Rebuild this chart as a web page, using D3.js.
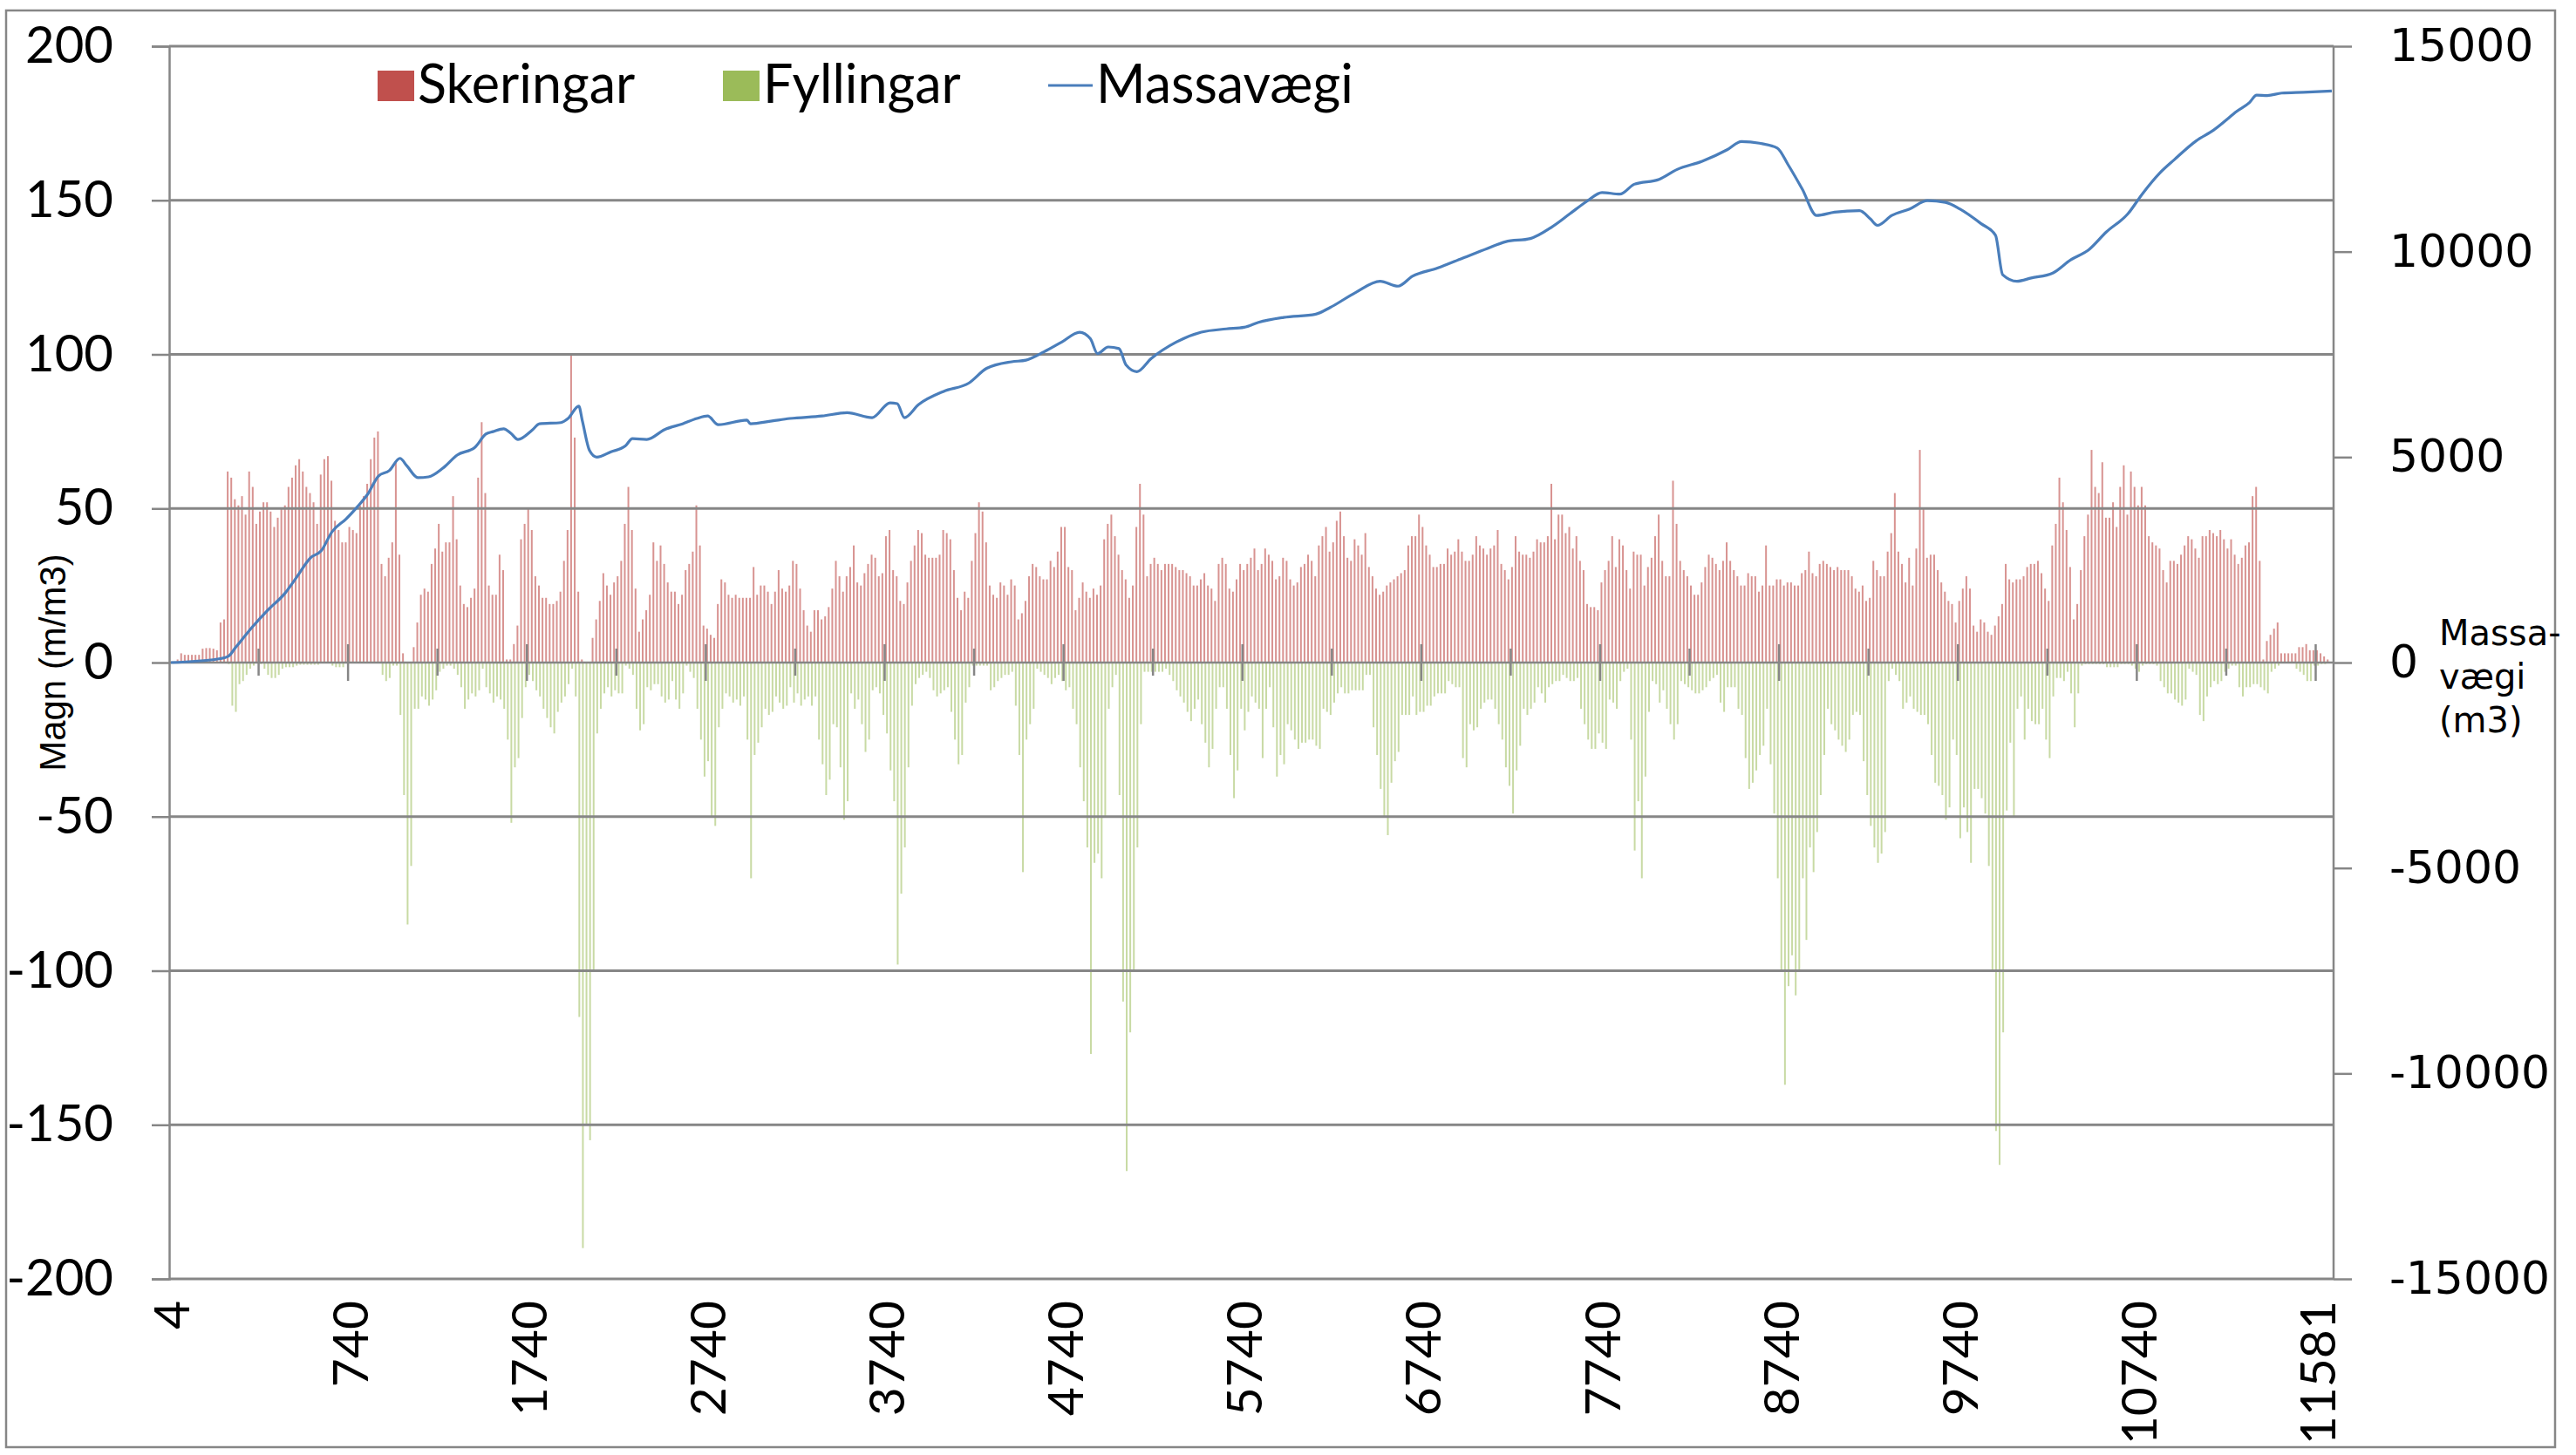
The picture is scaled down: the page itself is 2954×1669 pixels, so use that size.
<!DOCTYPE html>
<html lang="is">
    <head>
        <meta charset="UTF-8">
        <script src="https://cdn.jsdelivr.net/npm/d3@7"></script>
        <title>Massavægi</title>
        <style>
            body { margin: 0; background: #ffffff; }
        </style>
    </head>
    <body>
        <script type="text/javascript">
            // Tick labels on the category axis (station) and the category index they sit on
            var tickLabels = ["4", "740", "1740", "2740", "3740", "4740", "5740", "6740", "7740", "8740", "9740", "10740", "11581"];
            var tickIndex = [0, 50, 100, 150, 200, 250, 300, 350, 400, 450, 500, 550, 600];
            var categoryCount = 605;

            // Skeringar (m/m3), one value per station
            var skeringar = [
                0, 0, 1, 3, 2.5, 2.5, 2.5, 2.5, 2.5, 4.5,
                4.7, 4.7, 4.5, 4, 13, 14, 62, 60, 53, 51,
                54, 48, 62, 57, 45, 49, 52, 52, 49, 44,
                47, 50, 51, 57, 60, 64, 66, 62, 57, 55,
                52, 45, 61, 66, 67, 59, 46, 43, 39, 39,
                44, 43, 42, 51, 54, 58, 66, 73, 75, 32,
                28, 34, 39, 65, 35, 3, 0, 0, 5, 13,
                22, 24, 23, 32, 37, 45, 36, 39, 39, 54,
                40, 25, 19, 18, 21, 24, 60, 78, 55, 25,
                22, 22, 35, 30, 1, 1, 6, 12, 40, 45,
                50, 43, 28, 25, 21, 21, 19, 19, 20, 23,
                33, 43, 100, 73, 23, 1, 0, 0, 8, 14,
                20, 29, 25, 22, 26, 28, 33, 45, 57, 43,
                24, 10, 14, 17, 22, 39, 33, 38, 32, 26,
                23, 23, 19, 22, 30, 32, 36, 51, 38, 12,
                11, 9, 8, 19, 27, 26, 22, 21, 22, 21,
                21, 21, 21, 31, 22, 25, 25, 23, 19, 23,
                30, 24, 23, 25, 33, 32, 24, 17, 12, 10,
                17, 17, 14, 15, 18, 24, 33, 28, 23, 28,
                31, 38, 26, 25, 29, 32, 35, 34, 28, 29,
                41, 43, 30, 28, 20, 19, 26, 33, 38, 43,
                42, 35, 34, 34, 34, 35, 43, 42, 40, 30,
                21, 17, 23, 21, 33, 42, 52, 49, 39, 25,
                22, 21, 26, 25, 22, 27, 25, 14, 16, 20,
                28, 32, 31, 28, 27, 27, 33, 31, 36, 44,
                44, 31, 30, 17, 21, 26, 23, 21, 24, 22,
                25, 40, 45, 48, 41, 35, 30, 27, 21, 25,
                44, 58, 48, 28, 32, 34, 32, 30, 32, 32,
                32, 31, 30, 30, 29, 28, 25, 25, 27, 29,
                25, 24, 20, 32, 34, 32, 24, 23, 27, 32,
                30, 32, 34, 37, 30, 32, 37, 35, 33, 27,
                28, 34, 33, 27, 25, 26, 31, 32, 35, 33,
                28, 38, 41, 44, 36, 39, 46, 49, 41, 34,
                33, 40, 38, 35, 42, 31, 28, 24, 22, 23,
                25, 26, 27, 28, 29, 30, 38, 41, 41, 48,
                44, 38, 35, 31, 31, 32, 32, 37, 35, 36,
                40, 36, 33, 33, 35, 41, 38, 37, 35, 37,
                38, 43, 32, 30, 27, 31, 41, 36, 35, 35,
                34, 36, 40, 39, 39, 41, 58, 40, 48, 48,
                42, 44, 37, 41, 33, 30, 19, 18, 18, 17,
                26, 30, 33, 41, 31, 40, 38, 30, 24, 36,
                35, 35, 25, 31, 34, 41, 48, 33, 28, 28,
                59, 45, 33, 30, 28, 25, 22, 22, 26, 31,
                35, 34, 32, 30, 33, 39, 33, 30, 28, 25,
                25, 29, 28, 28, 23, 25, 38, 25, 25, 27,
                27, 25, 26, 26, 25, 25, 29, 30, 36, 29,
                28, 32, 33, 32, 31, 30, 31, 30, 30, 30,
                28, 24, 23, 25, 20, 21, 33, 30, 28, 28,
                36, 42, 55, 36, 32, 26, 34, 25, 37, 69,
                50, 34, 35, 35, 30, 26, 23, 20, 19, 13,
                20, 24, 28, 24, 12, 10, 14, 13, 10, 9,
                12, 15, 19, 32, 27, 26, 27, 27, 28, 31,
                32, 32, 33, 29, 24, 20, 38, 45, 60, 52,
                43, 31, 14, 19, 30, 41, 48, 69, 57, 55,
                65, 47, 47, 52, 44, 57, 64, 48, 62, 57,
                51, 57, 51, 41, 39, 38, 37, 30, 26, 33,
                33, 32, 35, 38, 41, 40, 37, 34, 41, 41,
                43, 42, 41, 43, 40, 37, 40, 35, 32, 34,
                38, 39, 54, 57, 33, 1, 7, 9, 11, 13,
                3, 3, 3, 3, 3, 5, 5, 6, 4, 4,
                4, 3, 2, 1, 0
            ];

            // Fyllingar (m/m3), one value per station
            var fyllingar = [
                0, 0, 0, 0, 0, 0, 0, 0, 0, 0,
                0, 0, 0, 0, 0, 0, -0.5, -14, -16, -7,
                -6, -4, -2, -1, 0, -0.5, -2, -4, -5, -5,
                -4, -2, -1.5, -1.5, -1.5, -1, -0.7, -0.7, -0.7, -0.7,
                -0.7, -0.7, 0, 0, 0, -1, -1.5, -1.5, -1.5, 0,
                0, 0, 0, 0, 0, 0, 0, 0, 0, -4,
                -6, -5, -1, -1, -17, -43, -85, -66, -15, -15,
                -11, -12, -14, -12, -9, -3, -2, -1, -1, -2,
                -4, -8, -15, -12, -10, -11, -9, -2, -8, -10,
                -13, -11, -12, -15, -25, -52, -34, -31, -18, -8,
                -4, -6, -9, -11, -15, -18, -21, -23, -16, -13,
                -11, -7, -2, -11, -115, -190, -150, -155, -100, -23,
                -15, -10, -8, -11, -9, -10, -10, -1, -2, -4,
                -15, -22, -20, -8, -9, -7, -7, -11, -13, -12,
                -6, -12, -15, -10, -1, -3, -5, -15, -25, -37,
                -32, -50, -53, -21, -15, -10, -11, -13, -12, -14,
                -11, -25, -70, -30, -26, -21, -15, -17, -16, -11,
                -13, -15, -14, -8, -13, -10, -14, -12, -11, -14,
                -11, -25, -33, -43, -38, -20, -21, -34, -51, -45,
                -10, -15, -12, -20, -29, -25, -9, -8, -10, -17,
                -23, -35, -45, -98, -75, -60, -34, -14, -7, -5,
                -4, -3, -5, -9, -11, -10, -9, -8, -16, -25,
                -33, -30, -13, -8, -1, -1, -1, -1, -1, -9,
                -8, -6, -5, -4, -4, -3, -14, -30, -68, -25,
                -20, -15, -2, -3, -4, -5, -7, -5, -4, -6,
                -9, -8, -15, -20, -34, -45, -60, -127, -65, -62,
                -70, -50, -15, -8, -4, -43, -110, -165, -120, -100,
                -60, -20, -3, -3, -3, -3, -3, -3, -2, -4,
                -6, -9, -11, -13, -16, -19, -15, -12, -20, -26,
                -34, -28, -15, -8, -8, -15, -30, -44, -35, -15,
                -22, -16, -11, -13, -15, -31, -15, -8, -21, -37,
                -30, -33, -20, -22, -25, -28, -26, -26, -25, -25,
                -27, -28, -15, -16, -17, -13, -10, -8, -10, -10,
                -9, -9, -9, -9, -4, -4, -21, -30, -41, -50,
                -56, -39, -32, -29, -17, -17, -17, -11, -17, -16,
                -16, -14, -14, -11, -10, -10, -10, -6, -7, -8,
                -8, -31, -34, -20, -22, -21, -15, -13, -12, -12,
                -15, -20, -25, -34, -40, -49, -35, -27, -15, -17,
                -15, -13, -8, -10, -13, -8, -7, -6, -6, -4,
                -5, -6, -6, -5, -15, -20, -25, -28, -28, -23,
                -26, -28, -12, -13, -15, -6, -3, -2, -25, -61,
                -45, -70, -37, -16, -6, -7, -13, -9, -15, -20,
                -25, -20, -6, -7, -8, -9, -10, -10, -9, -8,
                -6, -5, -4, -13, -16, -8, -8, -8, -15, -17,
                -31, -41, -39, -35, -30, -27, -15, -33, -49, -70,
                -100, -137, -105, -95, -108, -100, -70, -90, -60, -68,
                -55, -43, -30, -15, -20, -22, -25, -27, -29, -25,
                -17, -16, -17, -32, -43, -53, -60, -65, -62, -55,
                -6, -2, -4, -6, -15, -13, -11, -15, -16, -17,
                -17, -20, -30, -39, -40, -43, -51, -47, -25, -30,
                -57, -47, -55, -65, -41, -41, -44, -49, -66, -100,
                -152, -163, -120, -48, -26, -50, -15, -11, -25, -15,
                -19, -20, -20, -15, -25, -31, -11, -5, -5, -6,
                -3, -10, -21, -10, -1, -0.5, -0.5, -0.5, -0.5, -0.5,
                -0.5, -1.5, -1.5, -1.5, -1.5, -0.5, -0.5, -0.5, -1, -2,
                -3, -1, -0.5, -0.5, -0.5, -1, -6, -8, -10, -10,
                -12, -13, -14, -12, -2, -3, -4, -17, -19, -11,
                -8, -6, -7, -6, -3, -2, -1, -1, -8, -11,
                -8, -8, -7, -7, -8, -9, -10, -3, -2, -1,
                0, 0, 0, 0, -2, -3, -4, -6, -6, -1,
                -1, -0.5, -0.5, 0, 0
            ];

            // Massavægi (m3) read at these station indices
            var massIndex = [0, 13, 16, 18, 23, 27, 32, 35, 39, 42, 45, 49, 52, 55, 58, 61, 64, 66, 69, 72,
                76, 80, 85, 88, 90, 93, 95, 97, 101, 103, 109, 111, 114, 115, 117, 119, 123, 127, 129, 133,
                138, 143, 147, 150, 153, 161, 162, 168, 173, 182, 189, 196, 201, 203, 205, 209, 216, 223, 228, 235,
                239, 244, 249, 254, 257, 259, 262, 265, 267, 270, 274, 281, 288, 295, 300, 304, 311, 320, 324, 331,
                338, 343, 347, 354, 361, 368, 373, 380, 386, 391, 396, 400, 405, 409, 416, 421, 428, 435, 439, 444,
                449, 452, 456, 460, 465, 472, 475, 477, 481, 486, 491, 496, 500, 506, 510, 512, 516, 520, 526, 531,
                536, 541, 547, 551, 556, 560, 566, 571, 575, 577, 581, 583, 586, 590, 596, 604];
            var massValue = [0, 85, 150, 360, 890, 1270, 1700, 2060, 2550, 2720, 3180, 3500, 3780, 4100, 4540, 4670, 4970, 4780, 4500, 4520,
                4730, 5050, 5240, 5560, 5620, 5690, 5580, 5430, 5660, 5810, 5840, 5940, 6240, 5880, 5160, 5000, 5130, 5270, 5450, 5430,
                5670, 5810, 5940, 6000, 5790, 5900, 5810, 5880, 5940, 6000, 6080, 5960, 6320, 6300, 5960, 6280, 6600, 6800, 7160, 7320,
                7360, 7560, 7800, 8040, 7880, 7520, 7680, 7640, 7240, 7080, 7400, 7800, 8040, 8120, 8160, 8280, 8400, 8480, 8640, 9000,
                9280, 9160, 9400, 9600, 9840, 10080, 10240, 10320, 10600, 10920, 11240, 11440, 11400, 11640, 11760, 12000, 12200, 12480, 12680, 12640,
                12520, 12120, 11520, 10880, 10960, 11000, 10800, 10640, 10880, 11040, 11240, 11200, 11040, 10680, 10400, 9440, 9280, 9360, 9480, 9800,
                10040, 10480, 10920, 11400, 11920, 12240, 12690, 12960, 13240, 13390, 13630, 13810, 13800, 13860, 13880, 13910];

            var leftTicks = [-200, -150, -100, -50, 0, 50, 100, 150, 200];
            var rightTicks = [-15000, -10000, -5000, 0, 5000, 10000, 15000];

            // Size of the page and of the plot area
            var width = 2954;
            var height = 1669;
            var plot = { left: 194, right: 2676, top: 53, bottom: 1467 };
            var axisGrey = "#868686";
            var numFont = "Lato, 'Open Sans', sans-serif";

            // Plain hyphen for negative numbers, as in the original
            function plainNumber(d) { return String(d); }

            var svg = d3.select("body")
                .append("svg")
                .attr("width", width)
                .attr("height", height)
                .style("display", "block");

            svg.append("rect")
                .attr("width", width)
                .attr("height", height)
                .attr("fill", "#ffffff");

            // Outer chart border
            svg.append("rect")
                .attr("x", 7)
                .attr("y", 12)
                .attr("width", 2923)
                .attr("height", 1648)
                .attr("fill", "none")
                .attr("stroke", axisGrey)
                .attr("stroke-width", 2.5);

            // Scales
            var xScale = d3.scaleBand()
                .domain(d3.range(categoryCount))
                .range([plot.left, plot.right]);
            var bw = xScale.bandwidth();

            var yScale = d3.scaleLinear()
                .domain([-200, 200])
                .range([plot.bottom, plot.top]);

            var y2Scale = d3.scaleLinear()
                .domain([-15000, 15000])
                .range([plot.bottom, plot.top]);

            // Bars: cuts upward, fills downward
            svg.append("g")
                .selectAll("rect")
                .data(skeringar)
                .enter()
                .append("rect")
                .attr("x", function(d, i){ return xScale(i) + bw / 2 - 1.6; })
                .attr("y", function(d){ return yScale(Math.max(d, 0)); })
                .attr("width", 2)
                .attr("height", function(d){ return Math.abs(yScale(d) - yScale(0)); })
                .attr("fill", "#c0504d")
                .attr("fill-opacity", 0.62);

            svg.append("g")
                .selectAll("rect")
                .data(fyllingar)
                .enter()
                .append("rect")
                .attr("x", function(d, i){ return xScale(i) + bw / 2 - 0.4; })
                .attr("y", function(d){ return yScale(Math.max(d, 0)); })
                .attr("width", 2)
                .attr("height", function(d){ return Math.abs(yScale(d) - yScale(0)); })
                .attr("fill", "#9bbb59")
                .attr("fill-opacity", 0.55);

            // Horizontal gridlines
            svg.append("g")
                .selectAll("line")
                .data(leftTicks)
                .enter()
                .append("line")
                .attr("x1", plot.left)
                .attr("x2", plot.right)
                .attr("y1", function(d){ return yScale(d); })
                .attr("y2", function(d){ return yScale(d); })
                .attr("stroke", axisGrey)
                .attr("stroke-width", function(d){ return d === 0 ? 2.5 : 3.2; });

            // Left axis
            var yAxis = d3.axisLeft(yScale)
                .tickValues(leftTicks)
                .tickSize(20)
                .tickPadding(44)
                .tickFormat(plainNumber);
            var gLeft = svg.append("g")
                .attr("transform", "translate(" + plot.left + ",0)")
                .call(yAxis);
            gLeft.select(".domain").attr("stroke", axisGrey).attr("stroke-width", 2.5);
            gLeft.selectAll(".tick line").attr("stroke", axisGrey).attr("stroke-width", 2.5);
            gLeft.selectAll(".tick text")
                .style("font-family", numFont)
                .style("font-size", "58px")
                .attr("fill", "#000");

            // Right axis for the mass curve
            var y2Axis = d3.axisRight(y2Scale)
                .tickValues(rightTicks)
                .tickSize(21)
                .tickPadding(43)
                .tickFormat(plainNumber);
            var gRight = svg.append("g")
                .attr("transform", "translate(" + plot.right + ",0)")
                .call(y2Axis);
            gRight.select(".domain").attr("stroke", axisGrey).attr("stroke-width", 2.5);
            gRight.selectAll(".tick line").attr("stroke", axisGrey).attr("stroke-width", 2.5);
            gRight.selectAll(".tick text")
                .style("font-family", "'DejaVu Sans', Verdana, sans-serif")
                .style("font-size", "52px")
                .attr("fill", "#000");
            gRight.select(".domain").attr("d", "M0," + plot.top + "V" + plot.bottom);

            // Category ticks crossing the zero line, every 25 stations
            var catTicks = d3.range(1, 25);
            svg.append("g")
                .selectAll("line")
                .data(catTicks)
                .enter()
                .append("line")
                .attr("x1", function(k){ return xScale(k * 25); })
                .attr("x2", function(k){ return xScale(k * 25); })
                .attr("y1", function(k){ return yScale(0) - (k % 2 === 0 ? 21 : 16); })
                .attr("y2", function(k){ return yScale(0) + (k % 2 === 0 ? 21 : 15); })
                .attr("stroke", axisGrey)
                .attr("stroke-width", 2.5);

            // Category labels below the plot, rotated
            svg.append("g")
                .selectAll("text")
                .data(tickLabels)
                .enter()
                .append("text")
                .attr("transform", function(d, i){
                    return "translate(" + (xScale(tickIndex[i]) + bw / 2) + "," + (plot.bottom + 25) + ") rotate(-90)";
                })
                .attr("text-anchor", "end")
                .attr("dy", "0.36em")
                .style("font-family", numFont)
                .style("font-size", "57px")
                .text(function(d){ return d; });

            // Mass curve
            var massLine = d3.line()
                .x(function(d){ return xScale(d[0]) + bw / 2; })
                .y(function(d){ return y2Scale(d[1]); })
                .curve(d3.curveMonotoneX);

            svg.append("path")
                .datum(massIndex.map(function(d, i){ return [d, massValue[i]]; }))
                .attr("d", massLine)
                .attr("fill", "none")
                .attr("stroke", "#4a7ebb")
                .attr("stroke-width", 3.2)
                .attr("stroke-linejoin", "round");

            // Axis titles
            svg.append("text")
                .attr("transform", "translate(60,760) rotate(-90)")
                .attr("text-anchor", "middle")
                .attr("dy", "0.35em")
                .style("font-family", "'Liberation Sans', Arial, sans-serif")
                .style("font-size", "42px")
                .text("Magn (m/m3)");

            var rightTitle = svg.append("text")
                .style("font-family", "'DejaVu Sans', Verdana, sans-serif")
                .style("font-size", "40px");
            ["Massa-", "vægi", "(m3)"].forEach(function(t, i){
                rightTitle.append("tspan")
                    .attr("x", 2797)
                    .attr("y", 740 + i * 50)
                    .text(t);
            });

            // Legend
            var legend = svg.append("g")
                .style("font-family", numFont)
                .style("font-size", "61px");
            legend.append("rect").attr("x", 433).attr("y", 81).attr("width", 42).attr("height", 35).attr("fill", "#c0504d");
            legend.append("text").attr("x", 479).attr("y", 118).text("Skeringar");
            legend.append("rect").attr("x", 829).attr("y", 81).attr("width", 42).attr("height", 35).attr("fill", "#9bbb59");
            legend.append("text").attr("x", 875).attr("y", 118).text("Fyllingar");
            legend.append("line").attr("x1", 1202).attr("x2", 1253).attr("y1", 98).attr("y2", 98)
                .attr("stroke", "#4a7ebb").attr("stroke-width", 3.2);
            legend.append("text").attr("x", 1257).attr("y", 118).text("Massavægi");
        </script>
    </body>
</html>
